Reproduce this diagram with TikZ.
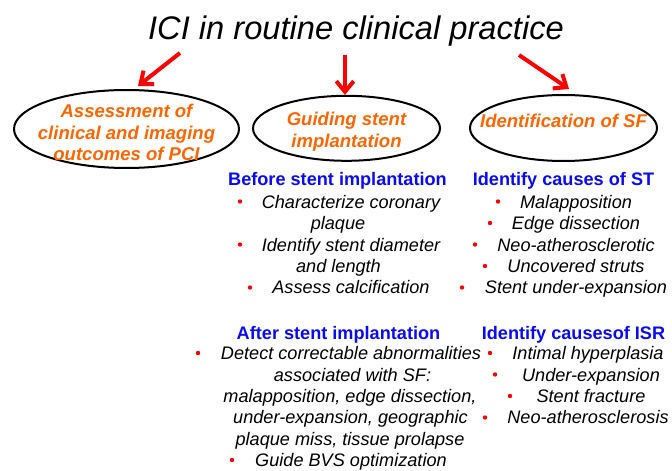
\documentclass[tikz,border=0pt]{standalone}
\usepackage{fontspec}
\setmainfont{Liberation Sans}
\usetikzlibrary{arrows.meta,shapes.geometric}
\definecolor{ochre}{RGB}{255,102,0}
\definecolor{headblue}{RGB}{10,10,245}
\begin{document}
\begin{tikzpicture}[x=0.75pt,y=-0.75pt,
  title/.style={anchor=base,inner sep=0,font=\fontsize{24.5}{28}\selectfont\itshape},
  oval/.style={draw=black,line width=1.5pt,ellipse,inner sep=0},
  topic/.style={inner sep=0,align=center,text=ochre,
    font=\fontsize{13.9}{16.1}\selectfont\bfseries\itshape},
  head/.style={anchor=base,inner sep=0,text=headblue,font=\fontsize{13.6}{16}\selectfont\bfseries},
  item/.style={anchor=base,inner sep=0,font=\fontsize{13.6}{16}\selectfont\itshape},
  dot/.style={circle,fill=red,inner sep=0,minimum size=3.3pt},
  pointer/.style={draw=red,line width=3pt,-{Straight Barb[length=8pt,width=13pt]}}
]
\useasboundingbox (0,0) rectangle (672,471);

% heading
\node[title] (ttl) at (356,39) {ICI in routine clinical practice};

% the three uses
\node[oval,minimum width=168.75pt,minimum height=58.5pt] (e1) at (126.5,129) {};
\node[oval,minimum width=140.25pt,minimum height=48.75pt] (e2) at (346.5,128.3) {};
\node[oval,minimum width=140.25pt,minimum height=49.5pt] (e3) at (563.5,128) {};
\node[topic] (l1) at (126.5,132.5) {Assessment of\\clinical and imaging\\outcomes of PCI};
\node[topic] (l2) at (346.5,131.5) {Guiding stent\\implantation};
\node[topic,anchor=base] (l3) at (563.5,127) {Identification of SF};

% arrows from the heading
\coordinate (s1) at (180,53);  \coordinate (t1) at (138,86);
\coordinate (s2) at (345,55);  \coordinate (t2) at (345,95);
\coordinate (s3) at (519,55);  \coordinate (t3) at (569,89);
\draw[pointer] (s1) -- (t1);
\draw[pointer] (s2) -- (t2);
\draw[pointer] (s3) -- (t3);

% before stent implantation
\node[head] (hb) at (337.5,185) {Before stent implantation};
\node[dot] (db1) at (240,201.5) {};
\node[item] (ib1a) at (351,208) {Characterize coronary};
\node[item] (ib1b) at (338,229.5) {plaque};
\node[dot] (db2) at (240,244.5) {};
\node[item] (ib2a) at (351,251) {Identify stent diameter};
\node[item] (ib2b) at (338.5,272) {and length};
\node[dot] (db3) at (250,287.5) {};
\node[item] (ib3) at (351,293.5) {Assess calcification};

% causes of stent thrombosis
\node[head] (hst) at (563.5,185) {Identify causes of ST};
\node[dot] (ds1) at (498,201.5) {};
\node[item] (is1) at (576,208) {Malapposition};
\node[dot] (ds2) at (490,223) {};
\node[item] (is2) at (576,229.5) {Edge dissection};
\node[dot] (ds3) at (475,244.5) {};
\node[item] (is3) at (576,251) {Neo-atherosclerotic};
\node[dot] (ds4) at (485,266) {};
\node[item] (is4) at (576,272) {Uncovered struts};
\node[dot] (ds5) at (462,287.5) {};
\node[item] (is5) at (576,293.5) {Stent under-expansion};

% after stent implantation
\node[head] (ha) at (338.5,339) {After stent implantation};
\node[dot] (da1) at (198,353) {};
\node[item] (ia1a) at (351,359.5) {Detect correctable abnormalities};
\node[item] (ia1b) at (352.5,381) {associated with SF:};
\node[item] (ia1c) at (350,402) {malapposition, edge dissection,};
\node[item] (ia1d) at (350.5,423.5) {under-expansion, geographic};
\node[item] (ia1e) at (350,445) {plaque miss, tissue prolapse};
\node[dot] (da2) at (232,460) {};
\node[item] (ia2) at (351,466.5) {Guide BVS optimization};

% causes of in-stent restenosis
\node[head] (hisr) at (573.5,339) {Identify causesof ISR};
\node[dot] (dr1) at (490,353) {};
\node[item] (ir1) at (588,359.5) {Intimal hyperplasia};
\node[dot] (dr2) at (495,374.5) {};
\node[item] (ir2) at (591,381) {Under-expansion};
\node[dot] (dr3) at (510,396) {};
\node[item] (ir3) at (591,402) {Stent fracture};
\node[dot] (dr4) at (485,417.5) {};
\node[item] (ir4) at (588,423.5) {Neo-atherosclerosis};
\end{tikzpicture}
\end{document}
